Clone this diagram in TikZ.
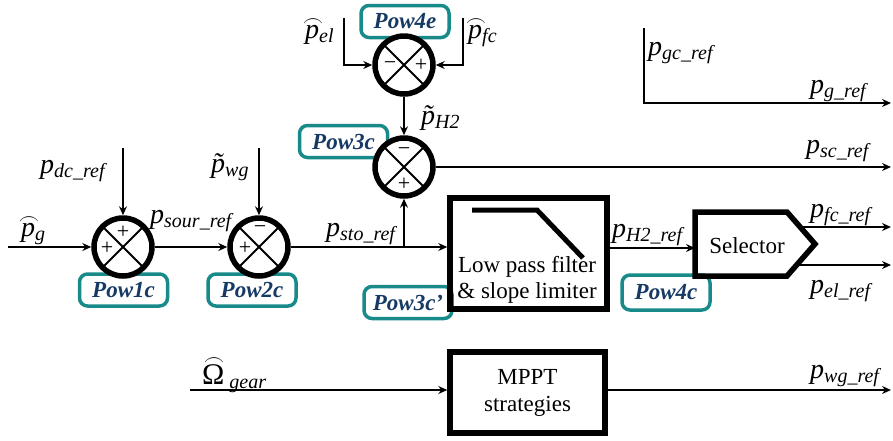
\documentclass[tikz,border=0pt]{standalone}
\usepackage{amsmath}
\usepackage{fontspec}
\setmainfont{Liberation Serif}
\usetikzlibrary{arrows.meta,calc}
\definecolor{teal1}{RGB}{24,138,138}
\definecolor{navy1}{RGB}{22,58,100}
\newcommand\sbx[1]{\raisebox{-4pt}{\fontsize{20}{20}\selectfont\itshape #1}}
\newcommand\archat[2][0.42em]{\ooalign{#2\cr\hidewidth\kern1.5pt\raisebox{#1}{$\scriptstyle\frown$}\hidewidth\cr}}
\begin{document}
\begin{tikzpicture}[x=1pt,y=-1pt,
  sumc/.style={circle, draw, line width=5.5pt, fill=white, minimum size=58pt, inner sep=0},
  pow/.style={draw=teal1, line width=3.5pt, rounded corners=8pt, text=navy1, font=\fontsize{23}{23}\selectfont\bfseries\itshape, inner sep=0, minimum width=88pt, minimum height=32pt},
  blk/.style={draw, line width=5.5pt, inner sep=0, font=\fontsize{23}{27}\selectfont, align=center},
  arr/.style={line width=1.6pt, -{Stealth[length=9pt,width=8pt,inset=3pt]}},
  crs/.style={line width=1.8pt},
  lab/.style={inner sep=0, font=\fontsize{28}{30}\selectfont\itshape},
  sgn/.style={inner sep=0, font=\fontsize{22}{22}\selectfont}]
\useasboundingbox (0,0) rectangle (893,440);

% Pow labels
\node[pow] (pw1) at (123.5,290) {Pow1c};
\node[pow] (pw2) at (252,290) {Pow2c};
\node[pow] (pw3) at (343.5,141.5) {Pow3c};
\node[pow] (pw3b) at (408,302.5) {Pow3c'};
\node[pow] (pw4e) at (405,21.5) {Pow4e};
\node[pow, minimum height=35pt] (pw4c) at (666,292.5) {Pow4c};

% summing junctions
\node[sumc] (s1) at (123,247) {};
\node[sumc] (s2) at (259,247) {};
\node[sumc] (s3) at (404,167) {};
\node[sumc] (s4) at (404,65) {};
\foreach \s in {s1,s2,s3,s4}{
  \draw[crs] ($(\s)+(45:27pt)$) -- ($(\s)+(225:27pt)$);
  \draw[crs] ($(\s)+(135:27pt)$) -- ($(\s)+(315:27pt)$);
}
\node[sgn] (g1a) at (123,232) {+};
\node[sgn] (g1b) at (107,248) {+};
\node[sgn] (g2a) at (260,230) {−};
\node[sgn] (g2b) at (245,248) {+};
\node[sgn] (g3a) at (404,152) {−};
\node[sgn] (g3b) at (404,184) {+};
\node[sgn] (g4a) at (390,66) {−};
\node[sgn] (g4b) at (421,65) {+};

% blocks
\node[blk, minimum width=157pt, minimum height=111pt] (lpf) at (528.5,253.5) {};
\draw[line width=5pt] (472,210) -- (537,210) -- (583,258);
\node[inner sep=0, font=\fontsize{23}{26}\selectfont, align=center] (lpft) at (527,280) {Low pass filter\\\& slope limiter};
\node[blk, minimum width=155pt, minimum height=81pt] (mppt) at (527.5,392.5) {MPPT\\strategies};
\draw[line width=5.5pt] (695,212) -- (787,212) -- (815,244) -- (787,276) -- (695,276) -- cycle;
\node[inner sep=0, font=\fontsize{23}{27}\selectfont] (sel) at (747,246) {Selector};

% coordinates
\coordinate (in1) at (8,247);
\coordinate (j) at (404,247);
\coordinate (dctop) at (123,148);
\coordinate (wgtop) at (259,148);
\coordinate (eltop) at (344,18);
\coordinate (elc) at (344,65);
\coordinate (fctop) at (463,18);
\coordinate (fcc) at (463,65);
\coordinate (scend) at (891,167);
\coordinate (gctop) at (644,28);
\coordinate (gcc) at (644,103);
\coordinate (gend) at (891,103);
\coordinate (selin) at (695,248);
\coordinate (fco) at (798,227);
\coordinate (fcend) at (891,227);
\coordinate (elo) at (796,265);
\coordinate (elend) at (891,265);
\coordinate (omin) at (190,390);
\coordinate (wgend) at (891,390);

% connectors
\draw[arr] (in1) -- (s1.west);
\draw[arr] (s1.east) -- (s2.west);
\draw[arr] (s2.east) -- (s2 -| lpf.west);
\draw[arr] (j) -- (s3.south);
\draw[arr] (dctop) -- (s1.north);
\draw[arr] (wgtop) -- (s2.north);
\draw[arr] (eltop) -- (elc) -- (s4.west);
\draw[arr] (fctop) -- (fcc) -- (s4.east);
\draw[arr] (s4.south) -- (s3.north);
\draw[arr] (s3.east) -- (scend);
\draw[arr] (gctop) -- (gcc) -- (gend);
\draw[arr] (selin -| lpf.east) -- (selin);
\draw[arr] (fco) -- (fcend);
\draw[arr] (elo) -- (elend);
\draw[arr] (omin) -- (omin -| mppt.west);
\draw[arr] (mppt.east |- wgend) -- (wgend);

% labels
\node[lab, anchor=base west] (lpg) at (21,236) {\archat{p}\sbx{g}};
\node[lab, anchor=base west] (ldc) at (40,173) {p\sbx{dc\_ref}};
\node[lab, anchor=base west] (lwg) at (211,172) {\~{p}\sbx{wg}};
\node[lab, anchor=base west] (lsour) at (150,223) {p\sbx{sour\_ref}};
\node[lab, anchor=base west] (lsto) at (326,236) {p\sbx{sto\_ref}};
\node[lab, anchor=base west] (lh2) at (421,124) {\~{p}\sbx{H2}};
\node[lab, anchor=base west] (lel) at (305,38) {\archat{p}\sbx{el}};
\node[lab, anchor=base west] (lfc) at (468,38) {\archat{p}\sbx{fc}};
\node[lab, anchor=base west] (lh2r) at (612,237) {p\sbx{H2\_ref}};
\node[lab, anchor=base west] (lfcr) at (810,217) {p\sbx{fc\_ref}};
\node[lab, anchor=base west] (lelr) at (810,293) {p\sbx{el\_ref}};
\node[lab, anchor=base west] (lscr) at (806,153) {p\sbx{sc\_ref}};
\node[lab, anchor=base west] (lgr) at (810,93) {p\sbx{g\_ref}};
\node[lab, anchor=base west] (lgcr) at (648,55) {p\sbx{gc\_ref}};
\node[lab, anchor=base west] (lwgr) at (810,378) {p\sbx{wg\_ref}};
\node[lab, anchor=base west] (lom) at (202,384) {\fontsize{30}{30}\selectfont\upshape\archat[0.62em]{Ω}\,\sbx{gear}};
\end{tikzpicture}
\end{document}
